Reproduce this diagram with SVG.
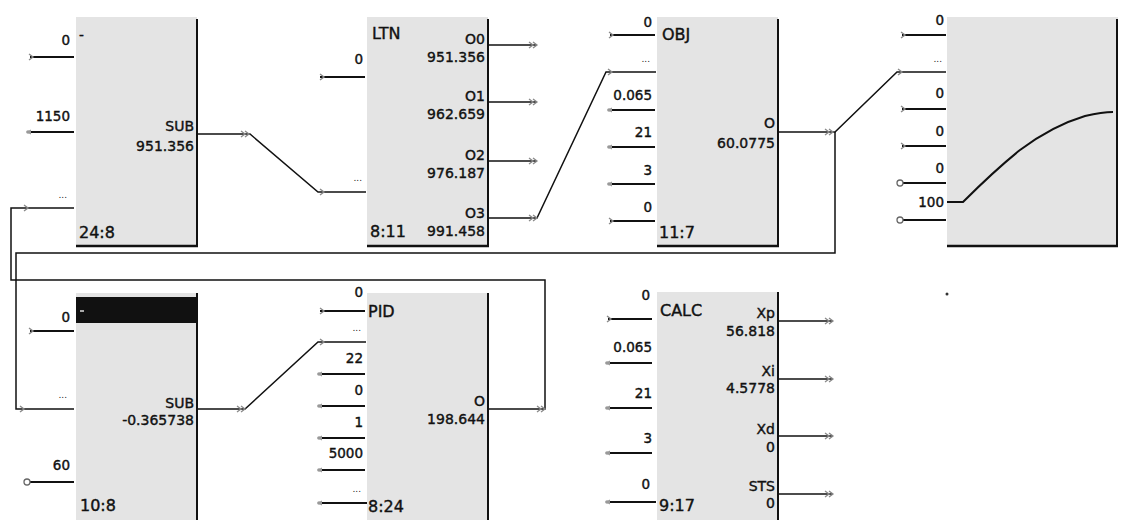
<svg xmlns="http://www.w3.org/2000/svg" xmlns:xlink="http://www.w3.org/1999/xlink" width="1122" height="520" viewBox="0 0 1122 520">
<style>
.box{fill:#e4e4e4}
.edge{stroke:#111;stroke-width:2;fill:none}
.base{stroke:#111;stroke-width:2.5;fill:none}
.stub{stroke:#111;stroke-width:2;fill:none}
.wire{stroke:#111;stroke-width:1.5;fill:none}
.v{font-family:"DejaVu Sans",sans-serif;font-size:13.5px;fill:#111;stroke:#111;stroke-width:0.4}
.r{text-anchor:end}
.dots{font-family:"DejaVu Sans",sans-serif;font-size:9px;fill:#1a1a1a;text-anchor:end}
.t{font-family:"DejaVu Sans",sans-serif;font-size:16px;fill:#111;stroke:#111;stroke-width:0.4}
.o{font-family:"DejaVu Sans",sans-serif;font-size:14px;fill:#111;stroke:#111;stroke-width:0.4;text-anchor:end}
</style>
<defs>
<g id="chev"><path d="M-2,-3 L2,0 L-2,3" stroke="#8a8a8a" stroke-width="1.4" fill="none"/></g>
<g id="dot"><path d="M-4,0 L1,-2.5 L1,2.5 Z" fill="#999"/><circle cx="-2" cy="0" r="1.8" fill="#999"/></g>
<g id="ring"><circle cx="0" cy="0" r="3" fill="#fff" stroke="#666" stroke-width="1.3"/></g>
<g id="arr"><path d="M-6,-3 L-2,0 L-6,3 M-2,-3 L2,0 L-2,3" stroke="#8a8a8a" stroke-width="1.3" fill="none"/></g>
</defs>

<g id="connectors">
<polyline class="wire" points="197,134 250,134 318,192 366,192"/>
<polyline class="wire" points="488,218 537,218 606,72 656,72"/>
<polyline class="wire" points="778,132 835,132 897,72 946,72"/>
<polyline class="wire" points="835,132 835,253 16,253 16,409 74,409"/>
<polyline class="wire" points="197,409 245,409 318,342 366,342"/>
<polyline class="wire" points="488,409 545,409 545,280 11,280 11,208 74,208"/>
<use xlink:href="#arr" x="247" y="134"/><use xlink:href="#chev" x="322" y="192"/>
<use xlink:href="#arr" x="535" y="218"/><use xlink:href="#chev" x="610" y="72"/>
<use xlink:href="#arr" x="831" y="132"/><use xlink:href="#chev" x="900" y="72"/>
<use xlink:href="#chev" x="22" y="409"/>
<use xlink:href="#arr" x="243" y="409"/><use xlink:href="#chev" x="322" y="342"/>
<use xlink:href="#arr" x="543" y="409"/><use xlink:href="#chev" x="26" y="208"/>
</g>

<g id="sub1">
<rect class="box" x="76" y="17" width="121" height="230"/>
<line class="edge" x1="197" y1="19" x2="197" y2="247"/>
<line class="base" x1="76" y1="246" x2="198" y2="246"/>
<text class="v r" x="70" y="45">0</text><text class="v" x="79" y="40">-</text>
<line class="stub" x1="30" y1="57" x2="74" y2="57"/><use xlink:href="#chev" x="31" y="57"/>
<text class="v r" x="70" y="121">1150</text>
<line class="stub" x1="29" y1="132" x2="74" y2="132"/><use xlink:href="#dot" x="30" y="132"/>
<text class="dots" x="67" y="198">...</text>
<text class="o" x="194" y="131">SUB</text>
<text class="o" x="194" y="151">951.356</text>
<text class="t" x="79" y="238">24:8</text>
</g>

<g id="ltn">
<rect class="box" x="367" y="17" width="121" height="230"/>
<line class="edge" x1="488" y1="19" x2="488" y2="247"/>
<line class="base" x1="367" y1="246" x2="489" y2="246"/>
<text class="t" x="372" y="39">LTN</text>
<text class="v r" x="363" y="64">0</text>
<line class="stub" x1="320" y1="77" x2="365" y2="77"/><use xlink:href="#chev" x="322" y="77"/>
<text class="dots" x="362" y="181">...</text>
<text class="o" x="485" y="44">O0</text><text class="o" x="485" y="62">951.356</text>
<text class="o" x="485" y="101">O1</text><text class="o" x="485" y="119">962.659</text>
<text class="o" x="485" y="160">O2</text><text class="o" x="485" y="178">976.187</text>
<text class="o" x="485" y="218">O3</text><text class="o" x="485" y="236">991.458</text>
<text class="t" x="370" y="237">8:11</text>
<line class="wire" x1="488" y1="45" x2="537" y2="45"/><use xlink:href="#arr" x="535" y="45"/>
<line class="wire" x1="488" y1="102" x2="537" y2="102"/><use xlink:href="#arr" x="535" y="102"/>
<line class="wire" x1="488" y1="161" x2="537" y2="161"/><use xlink:href="#arr" x="535" y="161"/>
</g>

<g id="obj">
<rect class="box" x="657" y="17" width="121" height="230"/>
<line class="edge" x1="778" y1="19" x2="778" y2="247"/>
<line class="base" x1="657" y1="246" x2="779" y2="246"/>
<text class="v r" x="652" y="27">0</text>
<line class="stub" x1="610" y1="35" x2="655" y2="35"/><use xlink:href="#chev" x="611" y="35"/>
<text class="t" x="662" y="40">OBJ</text>
<text class="dots" x="650" y="62">...</text>
<text class="v r" x="652" y="100">0.065</text>
<line class="stub" x1="610" y1="110" x2="655" y2="110"/><use xlink:href="#dot" x="611" y="110"/>
<text class="v r" x="652" y="137">21</text>
<line class="stub" x1="610" y1="147" x2="655" y2="147"/><use xlink:href="#dot" x="611" y="147"/>
<text class="v r" x="652" y="175">3</text>
<line class="stub" x1="610" y1="184" x2="655" y2="184"/><use xlink:href="#dot" x="611" y="184"/>
<text class="v r" x="652" y="212">0</text>
<line class="stub" x1="610" y1="221" x2="655" y2="221"/><use xlink:href="#chev" x="611" y="221"/>
<text class="t" x="659" y="238">11:7</text>
<text class="o" x="775" y="128">O</text>
<text class="o" x="775" y="148">60.0775</text>
</g>

<g id="trend">
<rect class="box" x="947" y="17" width="171" height="230"/>
<line class="edge" x1="1117" y1="19" x2="1117" y2="247"/>
<line class="base" x1="947" y1="246" x2="1118" y2="246"/>
<text class="v r" x="944" y="25">0</text>
<line class="stub" x1="902" y1="35" x2="946" y2="35"/><use xlink:href="#chev" x="903" y="35"/>
<text class="dots" x="942" y="62">...</text>
<text class="v r" x="944" y="98">0</text>
<line class="stub" x1="902" y1="109" x2="946" y2="109"/><use xlink:href="#chev" x="903" y="109"/>
<text class="v r" x="944" y="136">0</text>
<line class="stub" x1="902" y1="146" x2="946" y2="146"/><use xlink:href="#chev" x="903" y="146"/>
<text class="v r" x="944" y="173">0</text>
<line class="stub" x1="901" y1="183" x2="946" y2="183"/><use xlink:href="#ring" x="900" y="183"/>
<text class="v r" x="944" y="207">100</text>
<line class="stub" x1="901" y1="220" x2="946" y2="220"/><use xlink:href="#ring" x="900" y="220"/>
<path d="M947,202 L963,202 C975,190 995,170 1020,150 C1040,135 1065,122 1085,116 C1098,113 1106,112 1113,112" stroke="#111" stroke-width="2" fill="none"/>
</g>

<g id="sub2">
<rect class="box" x="76" y="293" width="121" height="227"/>
<rect x="76" y="297" width="121" height="26" fill="#111"/>
<line class="edge" x1="197" y1="293" x2="197" y2="520"/>
<text class="v r" x="70" y="322">0</text>
<line x1="80" y1="311" x2="84" y2="311" stroke="#ddd" stroke-width="1.5"/>
<line class="stub" x1="30" y1="331" x2="74" y2="331"/><use xlink:href="#chev" x="31" y="331"/>
<text class="dots" x="67" y="398">...</text>
<text class="o" x="194" y="408">SUB</text>
<text class="o" x="194" y="425">-0.365738</text>
<text class="v r" x="70" y="470">60</text>
<line class="stub" x1="29" y1="482" x2="74" y2="482"/><use xlink:href="#ring" x="27" y="482"/>
<text class="t" x="80" y="511">10:8</text>
</g>

<g id="pid">
<rect class="box" x="367" y="293" width="121" height="227"/>
<line class="edge" x1="488" y1="293" x2="488" y2="520"/>
<text class="v r" x="363" y="297">0</text>
<line class="stub" x1="320" y1="311" x2="365" y2="311"/><use xlink:href="#chev" x="322" y="311"/>
<text class="t" x="368" y="317">PID</text>
<text class="dots" x="361" y="331">...</text>
<text class="v r" x="363" y="363">22</text>
<line class="stub" x1="320" y1="374" x2="365" y2="374"/><use xlink:href="#dot" x="321" y="374"/>
<text class="v r" x="363" y="395">0</text>
<line class="stub" x1="320" y1="406" x2="365" y2="406"/><use xlink:href="#dot" x="321" y="406"/>
<text class="v r" x="363" y="427">1</text>
<line class="stub" x1="320" y1="438" x2="365" y2="438"/><use xlink:href="#dot" x="321" y="438"/>
<text class="v r" x="363" y="458">5000</text>
<line class="stub" x1="320" y1="470" x2="365" y2="470"/><use xlink:href="#dot" x="321" y="470"/>
<text class="dots" x="361" y="492">...</text>
<line class="stub" x1="320" y1="503" x2="367" y2="503"/><use xlink:href="#dot" x="321" y="503"/>
<text class="t" x="368" y="512">8:24</text>
<text class="o" x="485" y="406">O</text>
<text class="o" x="485" y="424">198.644</text>
</g>

<g id="calc">
<rect class="box" x="657" y="292" width="121" height="228"/>
<line class="edge" x1="778" y1="292" x2="778" y2="520"/>
<text class="v r" x="650" y="300">0</text>
<line class="stub" x1="608" y1="319" x2="652" y2="319"/><use xlink:href="#chev" x="609" y="319"/>
<text class="t" x="660" y="316">CALC</text>
<text class="v r" x="652" y="352">0.065</text>
<line class="stub" x1="608" y1="363" x2="652" y2="363"/><use xlink:href="#dot" x="609" y="363"/>
<text class="v r" x="652" y="398">21</text>
<line class="stub" x1="608" y1="408" x2="652" y2="408"/><use xlink:href="#dot" x="609" y="408"/>
<text class="v r" x="652" y="443">3</text>
<line class="stub" x1="608" y1="453" x2="652" y2="453"/><use xlink:href="#dot" x="609" y="453"/>
<text class="v r" x="650" y="489">0</text>
<line class="stub" x1="608" y1="502" x2="656" y2="502"/><use xlink:href="#dot" x="609" y="502"/>
<text class="t" x="659" y="511">9:17</text>
<text class="o" x="775" y="318">Xp</text><text class="o" x="775" y="336">56.818</text>
<text class="o" x="775" y="376">Xi</text><text class="o" x="775" y="393">4.5778</text>
<text class="o" x="775" y="434">Xd</text><text class="o" x="775" y="452">0</text>
<text class="o" x="775" y="491">STS</text><text class="o" x="775" y="508">0</text>
<line class="wire" x1="778" y1="321" x2="833" y2="321"/><use xlink:href="#arr" x="831" y="321"/>
<line class="wire" x1="778" y1="379" x2="833" y2="379"/><use xlink:href="#arr" x="831" y="379"/>
<line class="wire" x1="778" y1="436" x2="833" y2="436"/><use xlink:href="#arr" x="831" y="436"/>
<line class="wire" x1="778" y1="494" x2="833" y2="494"/><use xlink:href="#arr" x="831" y="494"/>
</g>

<circle cx="947" cy="294" r="1.5" fill="#333"/>
</svg>
